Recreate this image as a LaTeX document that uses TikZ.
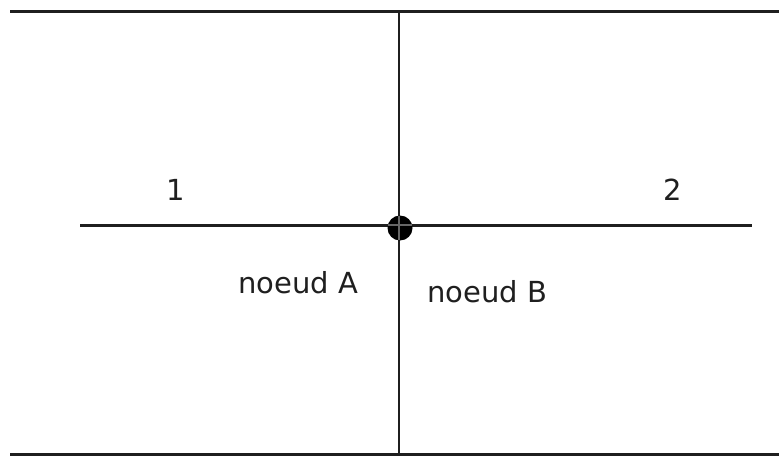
\documentclass[tikz,border=0pt]{standalone}
\usepackage{fontspec}
\setmainfont{DejaVu Sans}
\begin{document}
\begin{tikzpicture}[x=1pt,y=1pt,
  wire/.style={line width=3pt,color=black!88},
  lbl/.style={font=\fontsize{29}{32}\selectfont,inner sep=0pt,anchor=base,text=black!88}]
\useasboundingbox (0,0) rectangle (779,456);
% named end points
\coordinate (TL) at (10,444);
\coordinate (TR) at (779,444);
\coordinate (BL) at (10,2);
\coordinate (BR) at (779,2);
\coordinate (VT) at (399,444);
\coordinate (VB) at (399,0);
\coordinate (ML) at (80,231);
\coordinate (MR) at (752,231);
% lines
\draw[wire] (TL) -- (TR);
\draw[wire] (BL) -- (BR);
\draw[wire,line width=2.6pt] (VT) -- (VB);
\draw[wire] (ML) -- (MR);
% junction dot
\node (dot) [circle,fill=black,minimum size=25pt,inner sep=0pt] at (400,228) {};
\draw[wire,line width=2pt,color=black!60] (399,216) -- (399,240);
\draw[wire,line width=2pt,color=black!60] (388,231) -- (412,231);
% labels
\node (l1) [lbl] at (176,256) {1};
\node (l2) [lbl] at (673,256) {2};
\node (nA) [lbl] at (298,163) {noeud A};
\node (nB) [lbl] at (487,154) {noeud B};
\end{tikzpicture}
\end{document}
